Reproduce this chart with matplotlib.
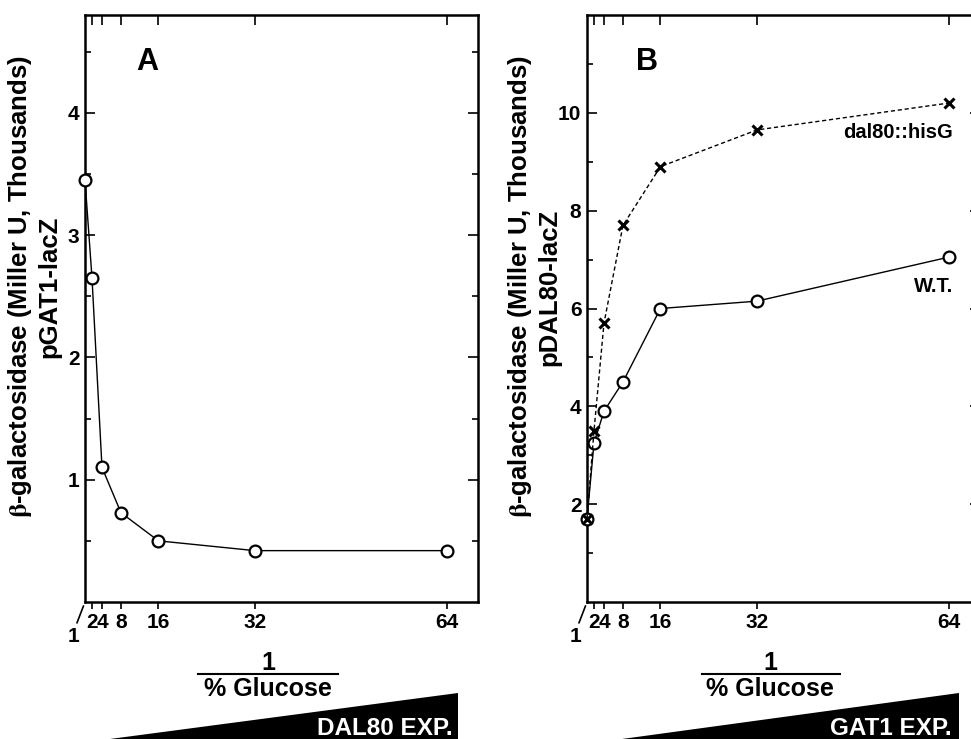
import numpy as np
import matplotlib
matplotlib.use('Agg')
import matplotlib.pyplot as plt
from matplotlib.patches import Polygon
from matplotlib.lines import Line2D
from matplotlib.ticker import NullLocator

# ---------------- data ----------------
x_vals = [1, 2, 4, 8, 16, 32, 64]
x_ticks = [2, 4, 8, 16, 32, 64]
x_tick_labels = ['2', '4', '8', '16', '32', '64']
gat1_wt = [3.45, 2.65, 1.10, 0.73, 0.50, 0.42, 0.42]
dal80_wt = [1.70, 3.25, 3.90, 4.50, 6.00, 6.15, 7.05]
dal80_mut = [1.70, 3.50, 5.70, 7.70, 8.90, 9.65, 10.20]
ya_major = [1, 2, 3, 4]
ya_minor = [0.5, 1.5, 2.5, 3.5, 4.5]
yb_major = [2, 4, 6, 8, 10]
yb_minor = [1, 3, 5, 7, 9, 11]

plt.rcParams['font.family'] = ['Liberation Sans', 'DejaVu Sans']
plt.rcParams['font.weight'] = 'bold'
plt.rcParams['mathtext.fontset'] = 'stix'

# broken / stretched x axis (piecewise-linear scale)
_kx = [1, 2, 4, 8, 16, 32, 64, 128]
_kp = [0, 7, 17, 36, 73.5, 170, 362, 746]


def fwd(x):
    return np.interp(x, _kx, _kp)


def inv(p):
    return np.interp(p, _kp, _kx)


W, H = 971, 739
fig = plt.figure(figsize=(W / 100, H / 100), dpi=100)


def fx(px):
    return px / W


def fy(py):
    return 1 - py / H


def px_rect(l, t, r, b):
    return [l / W, 1 - b / H, (r - l) / W, (b - t) / H]


axA = fig.add_axes(px_rect(85, 15, 478, 602))
axB = fig.add_axes(px_rect(587, 15, 980, 602))


def style(ax, ymax, ymaj, ymin):
    ax.set_xscale('function', functions=(fwd, inv))
    ax.set_xlim(1, 69.2)
    ax.set_ylim(0, ymax)
    ax.set_xticks(x_ticks)
    ax.set_xticklabels(x_tick_labels)
    ax.xaxis.set_minor_locator(NullLocator())
    ax.set_yticks(ymaj)
    ax.set_yticks(ymin, minor=True)
    ax.tick_params(axis='x', which='major', direction='out', length=5,
                   width=1.2, labelsize=15, pad=3)
    ax.tick_params(axis='y', which='both', direction='in', left=True,
                   right=True, width=1.2, labelsize=15, pad=4)
    ax.tick_params(axis='y', which='major', length=7.5)
    ax.tick_params(axis='y', which='minor', length=4.5)
    for s in ax.spines.values():
        s.set_linewidth(1.8)
    top = ax.twiny()
    top.set_xscale('function', functions=(fwd, inv))
    top.set_xlim(1, 69.2)
    top.set_xticks(x_ticks)
    top.xaxis.set_minor_locator(NullLocator())
    top.tick_params(axis='x', which='major', direction='in', length=7,
                    width=1.2, labeltop=False)
    for s in top.spines.values():
        s.set_visible(False)
    # axis break slash and the "1" label at the origin
    ax.annotate('', xy=(0, 0), xycoords='axes fraction', xytext=(-5.8, -15.1),
                textcoords='offset points', annotation_clip=False,
                arrowprops=dict(arrowstyle='-', lw=1.2, color='black',
                                shrinkA=0, shrinkB=3))
    ax.annotate('1', xy=(0, 0), xycoords='axes fraction', xytext=(-8.6, -25.2),
                textcoords='offset points', ha='center', va='center',
                fontsize=15, annotation_clip=False)


style(axA, 4.8, ya_major, ya_minor)
style(axB, 12, yb_major, yb_minor)

# ---------------- data lines ----------------
axA.plot(x_vals, gat1_wt, '-', color='black', lw=1.0, marker='o', ms=8.5,
         mfc='white', mec='black', mew=1.6, clip_on=False, zorder=3)
axB.plot(x_vals, dal80_wt, '-', color='black', lw=1.0, marker='o', ms=8.5,
         mfc='white', mec='black', mew=1.6, clip_on=False, zorder=3)
axB.plot(x_vals, dal80_mut, color='black', lw=1.0, ls=(0, (3, 2)),
         marker='x', ms=7, mew=2.2, clip_on=False, zorder=4)

# ---------------- labels ----------------
axA.text(0.158, 0.906, 'A', transform=axA.transAxes, ha='center',
         va='baseline', fontsize=22)
axB.text(0.153, 0.906, 'B', transform=axB.transAxes, ha='center',
         va='baseline', fontsize=22)
axB.text(64.7, 9.49, 'dal80::hisG', ha='right', va='baseline', fontsize=14.5)
axB.text(64.7, 6.33, 'W.T.', ha='right', va='baseline', fontsize=14.5)

ylab1 = r'$\mathrm{\beta}$-galactosidase (Miller U, Thousands)'
for x1, x2, sub in [(20, 49, 'pGAT1-lacZ'), (520, 549, 'pDAL80-lacZ')]:
    fig.text(fx(x1), fy(287), ylab1, rotation=90, ha='center', va='center',
             fontsize=18.5)
    fig.text(fx(x2), fy(287), sub, rotation=90, ha='center', va='center',
             fontsize=18.5)

# fraction x-axis titles
for cx, l, r in [(268, 198, 338), (770, 702, 840)]:
    fig.text(fx(cx), fy(670), '1', ha='center', va='baseline', fontsize=18)
    fig.add_artist(Line2D([fx(l), fx(r)], [fy(674), fy(674)], lw=1.5,
                          color='black', transform=fig.transFigure))
    fig.text(fx(cx), fy(696), '% Glucose', ha='center', va='baseline',
             fontsize=18)

# expression wedges
for tip, right, txt, tx in [(110, 458, 'DAL80 EXP.', 453),
                            (622, 959, 'GAT1 EXP.', 952)]:
    fig.add_artist(Polygon([[fx(tip), fy(739)], [fx(right), fy(693)],
                            [fx(right), fy(739)]], closed=True,
                           transform=fig.transFigure, color='black', lw=0))
    fig.text(fx(tx), fy(735), txt, color='white', ha='right', va='baseline',
             fontsize=17.5)

fig.savefig('out.png', dpi=100)
